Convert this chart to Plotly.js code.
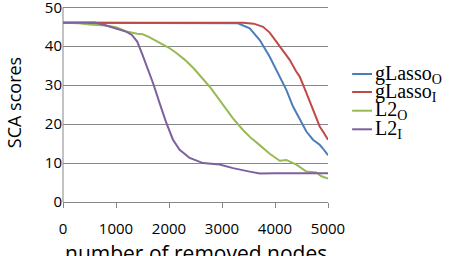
<!DOCTYPE html>
<html><head><meta charset="utf-8">
<script src="https://cdn.plot.ly/plotly-3.0.1.min.js"></script>
<style>html,body{margin:0;padding:0;background:#fff}#c{width:454px;height:256px}</style>
</head><body><div id="c"></div>
<script>
const names = ['gLasso<sub>O</sub>','gLasso<sub>I</sub>','L2<sub>O</sub>','L2<sub>I</sub>'];
const colors = ['#4a7ebb','#be4b48','#98b954','#7d60a0'];
const xGO = [0,1000,2000,3000,3300,3523,3712,3900,4089,4214,4340,4466,4592,4717,4843,4900,5000];
const yGO = [46,46,46,46,45.9,44.6,41.6,37.3,32.2,28.8,24.5,21.1,18.1,16.0,14.7,13.8,12.0];
const xGI = [0,1000,2000,3000,3400,3600,3774,3900,4026,4150,4277,4400,4466,4592,4717,4843,4906,5000];
const yGI = [46,46,46,46,46,45.8,45.0,43.5,41.2,39.0,36.5,33.5,32.2,28,23.7,19.4,18.1,16.0];
const xLO = [0,300,500,800,1000,1200,1400,1500,1600,1823,2000,2145,2300,2460,2600,2768,2900,3082,3200,3396,3550,3711,3900,4089,4214,4403,4592,4780,4875,5000];
const yLO = [46,45.9,45.6,45.3,44.9,43.8,43.2,43.1,42.5,40.8,39.6,38.2,36.5,34.4,32.2,29.6,27.2,23.7,21.6,18.5,16.4,14.6,12.4,10.6,10.8,9.6,7.8,7.6,6.6,6.0];
const xLI = [0,300,600,800,1000,1200,1300,1400,1500,1600,1700,1823,1950,2075,2201,2390,2642,2956,3082,3208,3523,3711,4000,4500,5000];
const yLI = [46,46,46.1,45.4,44.6,43.7,42.9,41.2,37.8,34.3,30.5,25.4,20.3,16.0,13.4,11.3,10.0,9.6,9.1,8.7,7.8,7.3,7.4,7.4,7.4];
const xTicks = [0,1000,2000,3000,4000,5000];
const yTicks = [0,10,20,30,40,50];
const xTitle = 'number of removed nodes';
const yTitle = 'SCA scores';

const xs=[xGO,xGI,xLO,xLI], ys=[yGO,yGI,yLO,yLI];
const traces = names.map((n,i)=>({x:xs[i],y:ys[i],name:n,type:'scatter',mode:'lines',
  line:{color:colors[i],width:2},showlegend:false}));
const plotTop = 3, plotBot = 54, plotH = 256-plotTop-plotBot;
const px2paper = p => (256-plotBot-p)/plotH;
// legend drawn as paper-space samples + labels
const legPx = [74,92,110.7,129.3];
const legY = legPx.map(px2paper);
const shapes = names.map((n,i)=>({type:'line',xref:'paper',yref:'paper',x0:1.091,x1:1.166,y0:legY[i],y1:legY[i],
  line:{color:colors[i],width:2}}));
// left axis line from 0 to 50 only
shapes.push({type:'line',xref:'paper',yref:'y',x0:0,x1:0,y0:yTicks[0],y1:yTicks[yTicks.length-1],
  line:{color:'#868686',width:1},layer:'below'});
const annotations = names.map((n,i)=>({xref:'paper',yref:'paper',x:1.168,y:legY[i],xanchor:'left',yanchor:'middle',
  text:n,showarrow:false,font:{family:'Liberation Serif, serif',size:20,color:'#000'}}));
annotations.push({xref:'paper',yref:'paper',x:0.5,y:px2paper(237),xanchor:'center',yanchor:'top',
  text:xTitle,showarrow:false,font:{size:21,color:'#000'}});
const layout = {
  width:454,height:256,margin:{l:63,r:126,t:plotTop,b:plotBot},
  paper_bgcolor:'#fff',plot_bgcolor:'#fff',showlegend:false,
  font:{family:'Open Sans, Liberation Sans, sans-serif',color:'#000'},
  xaxis:{range:[0,5000],tickvals:xTicks,ticktext:xTicks.map(String),showgrid:false,zeroline:false,
    showline:true,linecolor:'#868686',linewidth:1,ticks:'outside',ticklen:5,tickcolor:'#868686',
    ticklabelstandoff:8,ticklabeloverflow:'allow',tickfont:{size:15,color:'#000'}},
  yaxis:{range:[0,51.1],tickvals:yTicks,showgrid:true,gridcolor:'#878787',gridwidth:1,zeroline:false,
    showline:false,ticks:'',ticklabeloverflow:'allow',tickfont:{size:15,color:'#000'},
    title:{text:yTitle,font:{size:18,color:'#000'},standoff:18}},
  shapes:shapes, annotations:annotations
};
Plotly.newPlot('c',traces,layout,{displayModeBar:false,staticPlot:true});
</script></body></html>
